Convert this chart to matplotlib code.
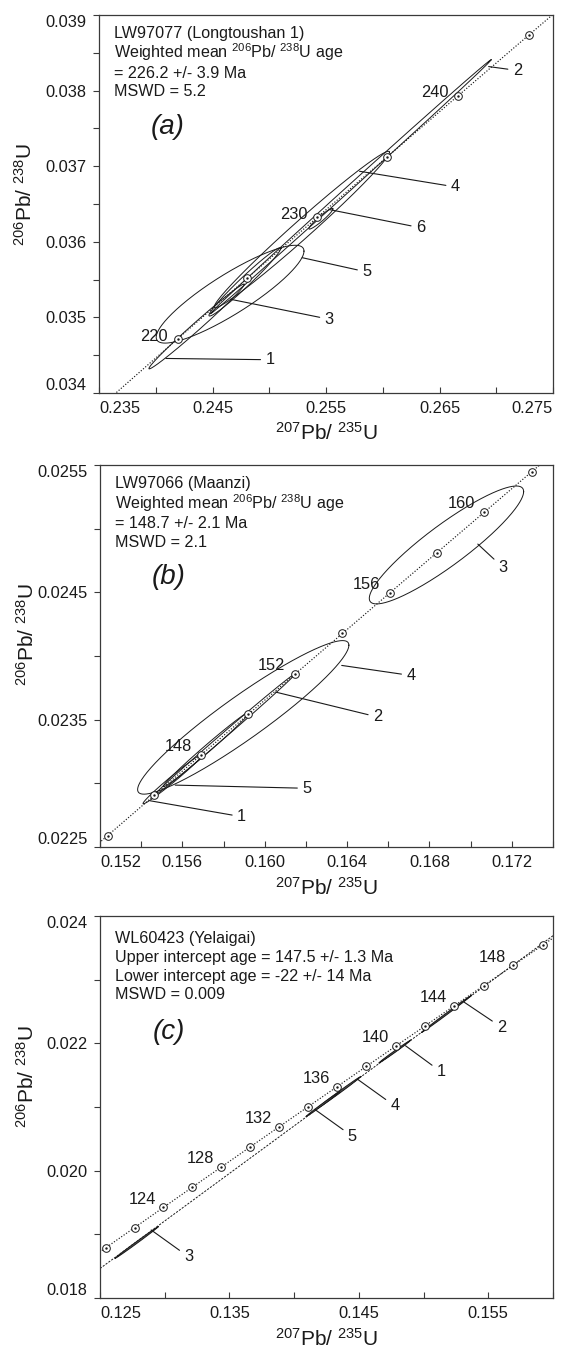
import numpy as np
import matplotlib
matplotlib.use("Agg")
import matplotlib.pyplot as plt

plt.rcParams["font.family"] = ["Liberation Sans", "DejaVu Sans"]
plt.rcParams["mathtext.fontset"] = "custom"
plt.rcParams["mathtext.rm"] = "Liberation Sans"
plt.rcParams["mathtext.it"] = "Liberation Sans:italic"
plt.rcParams["mathtext.bf"] = "Liberation Sans:bold"

# U decay constants (1/yr)
L235 = 9.8485e-10
L238 = 1.55125e-10

# ---------------- panel (a) LW97077 ----------------
a_age_range = [205, 255]
a_marker_ages = [220, 225, 230, 235, 240, 245]
a_label_ages = [220, 230, 240]
a_ids = ["1", "2", "3", "4", "5", "6"]
a_cx = [0.2436, 0.25718, 0.24785, 0.25287, 0.24655, 0.25455]
a_cy = [0.03488, 0.036728, 0.03547, 0.036162, 0.035307, 0.036305]
a_sx = [0.004205, 0.01237, 0.003163, 0.00772, 0.00651, 0.00106]
a_sy = [0.000561, 0.00168, 0.000452, 0.001035, 0.000647, 0.000137]
a_rho = [0.992, 0.99965, 0.9797, 0.9881, 0.88, 0.949]
a_xlim = [0.235, 0.275]
a_ylim = [0.034, 0.039]
a_xticks = [0.235, 0.240, 0.245, 0.250, 0.255, 0.260, 0.265, 0.270, 0.275]
a_xticklabels = ["0.235", "", "0.245", "", "0.255", "", "0.265", "", "0.275"]
a_yticks = [0.034, 0.0345, 0.035, 0.0355, 0.036, 0.0365, 0.037, 0.0375, 0.038, 0.0385, 0.039]
a_yticklabels = ["0.034", "", "0.035", "", "0.036", "", "0.037", "", "0.038", "", "0.039"]
a_text = ["LW97077 (Longtoushan 1)",
          r"Weighted mean $\mathregular{^{206}}$Pb/ $\mathregular{^{238}}$U age",
          "= 226.2 +/- 3.9 Ma",
          "MSWD = 5.2"]
a_letter = "(a)"

# ---------------- panel (b) LW97066 ----------------
b_age_range = [140, 166]
b_marker_ages = [144, 146, 148, 150, 152, 154, 156, 158, 160, 162]
b_label_ages = [148, 152, 156, 160]
b_ids = ["1", "2", "3", "4", "5"]
b_cx = [0.155545, 0.158039, 0.168826, 0.158957, 0.15718]
b_cy = [0.023035, 0.02338, 0.024872, 0.023518, 0.023269]
b_sx = [0.001457, 0.003439, 0.003748, 0.00513, 0.002108]
b_sy = [0.000196, 0.000480, 0.000463, 0.000603, 0.000295]
b_rho = [0.9878, 0.99854, 0.905, 0.94, 0.9924]
b_xlim = [0.152, 0.174]
b_ylim = [0.0225, 0.0255]
b_xticks = [0.152, 0.154, 0.156, 0.158, 0.160, 0.162, 0.164, 0.166, 0.168, 0.170, 0.172, 0.174]
b_xticklabels = ["0.152", "", "0.156", "", "0.160", "", "0.164", "", "0.168", "", "0.172", ""]
b_yticks = [0.0225, 0.0230, 0.0235, 0.0240, 0.0245, 0.0250, 0.0255]
b_yticklabels = ["0.0225", "", "0.0235", "", "0.0245", "", "0.0255"]
b_text = ["LW97066 (Maanzi)",
          r"Weighted mean $\mathregular{^{206}}$Pb/ $\mathregular{^{238}}$U age",
          "= 148.7 +/- 2.1 Ma",
          "MSWD = 2.1"]
b_letter = "(b)"

# ---------------- panel (c) WL60423 ----------------
c_age_range = [115, 155]
c_marker_ages = [120, 122, 124, 126, 128, 130, 132, 134, 136, 138, 140, 142, 144, 146, 148, 150]
c_label_ages = [124, 128, 132, 136, 140, 144, 148]
c_intercepts = [-22.0, 147.5]
c_ids = ["1", "2", "3", "4", "5"]
c_cx = [0.147775, 0.15176, 0.12783, 0.14348, 0.142212]
c_cy = [0.02187, 0.02246, 0.018871, 0.02123, 0.021044]
c_sx = [0.001236, 0.00192, 0.001677, 0.00168, 0.001305]
c_sy = [0.00018, 0.00029, 0.00025, 0.00025, 0.000196]
c_rho = [0.99652, 0.99861, 0.99803, 0.99755, 0.9970]
c_xlim = [0.125, 0.160]
c_ylim = [0.018, 0.024]
c_xticks = [0.125, 0.130, 0.135, 0.140, 0.145, 0.150, 0.155, 0.160]
c_xticklabels = ["0.125", "", "0.135", "", "0.145", "", "0.155", ""]
c_yticks = [0.018, 0.019, 0.020, 0.021, 0.022, 0.023, 0.024]
c_yticklabels = ["0.018", "", "0.020", "", "0.022", "", "0.024"]
c_text = ["WL60423 (Yelaigai)",
          "Upper intercept age = 147.5 +/- 1.3 Ma",
          "Lower intercept age = -22 +/- 14 Ma",
          "MSWD = 0.009"]
c_letter = "(c)"

# leader lines: (label, start x, start y, label x, label y) in data units
a_leaders = [("1", 0.240893, 0.034457, 0.250055, 0.034440),
             ("2", 0.269329, 0.038318, 0.271856, 0.038266),
             ("3", 0.246580, 0.035240, 0.255269, 0.034976),
             ("4", 0.257954, 0.036933, 0.266390, 0.036726),
             ("5", 0.252899, 0.035790, 0.258586, 0.035601),
             ("6", 0.255269, 0.036427, 0.263325, 0.036186)]
b_leaders = [("3", 0.170348, 0.024879, 0.171565, 0.024696),
             ("4", 0.163739, 0.023926, 0.167096, 0.023847),
             ("2", 0.160522, 0.023717, 0.165478, 0.023521),
             ("5", 0.155652, 0.022986, 0.162040, 0.022961),
             ("1", 0.154435, 0.022863, 0.158870, 0.022738)]
c_leaders = [("3", 0.128956, 0.019068, 0.131841, 0.018647),
             ("5", 0.141593, 0.020963, 0.144478, 0.020542),
             ("4", 0.144890, 0.021437, 0.147775, 0.021016),
             ("1", 0.148599, 0.021963, 0.151346, 0.021553),
             ("2", 0.153132, 0.022647, 0.156016, 0.022253)]

INK = "#1a1a1a"
FRAME = "#3a3a3a"


def concordia(age_ma):
    t = np.asarray(age_ma, dtype=float) * 1e6
    return np.expm1(L235 * t), np.expm1(L238 * t)


def draw_panel(ax, age_range, marker_ages, label_ages, cx, cy, sx, sy, rho,
               xlim, ylim, xticks, xticklabels, yticks, yticklabels,
               text, letter, leaders, text_y, letter_y, ylab_y, age_off,
               filled=False, intercepts=None):
    ax.set_xlim(xlim)
    ax.set_ylim(ylim)
    # concordia
    ages = np.linspace(age_range[0], age_range[1], 800)
    x, y = concordia(ages)
    ax.plot(x, y, color=INK, lw=0.85, ls=(0, (1.0, 1.5)), zorder=2)
    # discordia
    if intercepts is not None:
        ix, iy = concordia(intercepts)
        slope = (iy[1] - iy[0]) / (ix[1] - ix[0])
        xs = np.array(xlim)
        ax.plot(xs, iy[1] + slope * (xs - ix[1]), color=INK, lw=0.7,
                ls=(0, (2.2, 1.4)), zorder=2)
    # age markers
    mx, my = concordia(marker_ages)
    ax.plot(mx, my, "o", mfc="white", mec=INK, ms=5.5, mew=0.7, zorder=4)
    ax.plot(mx, my, ".", color=INK, ms=1.5, zorder=5)
    lx, ly = concordia(label_ages)
    for age, px, py in zip(label_ages, lx, ly):
        ax.annotate(str(age), (px, py), xytext=age_off, textcoords="offset points",
                    ha="right", va="center", fontsize=11.8, color=INK, zorder=6)
    # error ellipses
    tt = np.linspace(0, 2 * np.pi, 600)
    for x0, y0, ex, ey, r in zip(cx, cy, sx, sy, rho):
        xe = x0 + ex * np.cos(tt)
        ye = y0 + ey * (r * np.cos(tt) + np.sqrt(1 - r * r) * np.sin(tt))
        if filled:
            ax.fill(xe, ye, color="#555555", lw=0, zorder=3)
        ax.plot(xe, ye, color=INK, lw=0.7, zorder=3)
    # leaders
    for lab, x0, y0, x1, y1 in leaders:
        ax.annotate(lab, (x0, y0), xytext=(x1, y1), textcoords="data",
                    ha="center", va="center", fontsize=11.8, color=INK,
                    arrowprops=dict(arrowstyle="-", lw=0.8, color=INK,
                                    shrinkA=1.5, shrinkB=0), zorder=6)
    # ticks
    ax.set_xticks(xticks)
    ax.set_xticklabels(xticklabels)
    ax.set_yticks(yticks)
    ax.set_yticklabels(yticklabels)
    ax.tick_params(axis="x", direction="in", length=4, width=0.8, pad=5.5,
                   labelsize=11.8, colors=FRAME, labelcolor=INK)
    ax.tick_params(axis="y", direction="out", length=4, width=0.8, pad=5,
                   labelsize=11.8, colors=FRAME, labelcolor=INK)
    xl = ax.get_xticklabels()
    xl[0].set_horizontalalignment("left")
    if xticklabels[-1]:
        xl[-1].set_horizontalalignment("right")
    yl = ax.get_yticklabels()
    yl[0].set_verticalalignment("bottom")
    yl[-1].set_verticalalignment("top")
    for s in ax.spines.values():
        s.set_color(FRAME)
        s.set_linewidth(0.9)
    # texts
    for line, ty in zip(text, text_y):
        ax.text(0.033, ty, line, transform=ax.transAxes, ha="left",
                va="baseline", fontsize=11.6, color=INK)
    ax.text(0.152, letter_y, letter, transform=ax.transAxes, ha="center",
            va="center", fontsize=20, style="italic", color=INK)
    lab = r"$\mathregular{^{207}Pb/\ ^{235}U}$"
    ax.text(0.5, -0.125, lab, transform=ax.transAxes, ha="center",
            va="baseline", fontsize=15, color=INK)
    ylab = r"$\mathregular{^{206}Pb/\ ^{238}U}$"
    ax.text(-0.147, ylab_y, ylab, transform=ax.transAxes, ha="center",
            va="baseline", rotation=90, rotation_mode="anchor",
            fontsize=15, color=INK)


fig = plt.figure(figsize=(5.61, 13.51), dpi=100)
ax_a = fig.add_axes([99 / 561, 1 - 393 / 1351, 454 / 561, 378 / 1351])
ax_b = fig.add_axes([100 / 561, 1 - 847 / 1351, 453 / 561, 382 / 1351])
ax_c = fig.add_axes([100 / 561, 1 - 1298 / 1351, 453 / 561, 382 / 1351])

draw_panel(ax_a, a_age_range, a_marker_ages, a_label_ages, a_cx, a_cy, a_sx, a_sy, a_rho,
           a_xlim, a_ylim, a_xticks, a_xticklabels, a_yticks, a_yticklabels,
           a_text, a_letter, a_leaders, [0.938, 0.885, 0.834, 0.787], 0.7045, 0.524,
           (-7, 2))
draw_panel(ax_b, b_age_range, b_marker_ages, b_label_ages, b_cx, b_cy, b_sx, b_sy, b_rho,
           b_xlim, b_ylim, b_xticks, b_xticklabels, b_yticks, b_yticklabels,
           b_text, b_letter, b_leaders, [0.939, 0.885, 0.834, 0.786], 0.7076, 0.555,
           (-7, 6))
draw_panel(ax_c, c_age_range, c_marker_ages, c_label_ages, c_cx, c_cy, c_sx, c_sy, c_rho,
           c_xlim, c_ylim, c_xticks, c_xticklabels, c_yticks, c_yticklabels,
           c_text, c_letter, c_leaders, [0.929, 0.879, 0.830, 0.783], 0.697, 0.579,
           (-5, 6), filled=True, intercepts=c_intercepts)

fig.savefig("out.png", dpi=100)
